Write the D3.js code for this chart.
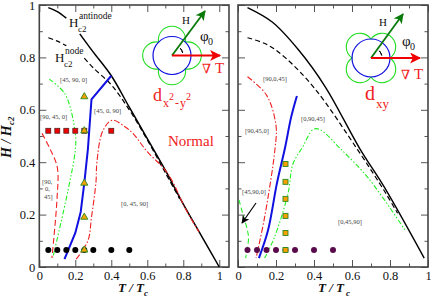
<!DOCTYPE html>
<html>
<head>
<meta charset="utf-8">
<script src="https://cdn.jsdelivr.net/npm/d3@7"></script>
<style>
  html, body { margin: 0; padding: 0; background: #fff; }
  svg { display: block; font-family: "Liberation Serif", serif; }
</style>
</head>
<body>
<svg id="chart" width="431" height="300"></svg>
<script>
// null splits a line where a label sits on top of it
const leftAntinode = [[.05,.99],[.1,.975],[.15,.95],null,[.225,.89],[.3,.82],[.4,.73],[.5,.61],[.6,.49],[.7,.37],[.8,.24],[.9,.12],[1,0]];
const leftNode = [[.05,.875],[.1,.862],[.15,.845],null,[.25,.797],[.3,.76],[.4,.695],[.5,.6],[.6,.485],[.7,.36],[.78,.26]];
const leftBlue = [[.14,.03],[.2,.13],[.23,.21],[.25,.32],[.27,.45],[.29,.64],[.4,.73]];
const leftRedRight = [[.205,.03],[.27,.1],[.29,.19],[.315,.325],[.32,.4],[.353,.52],[.405,.56],[.476,.535],[.52,.51],[.6,.44],[.7,.37],[.745,.32],[.81,.225],[.887,.134]];
const leftRedLeft = [[.015,.51],[.06,.45],[.1,.38],[.098,.256],[.07,.035]];
const leftGreen = [[.055,.717],[.143,.66],[.2,.51],[.2,.447],[.16,.294],[.075,.035]];

const rightAntinode = [[.05,.99],[.18,.935],[.317,.83],[.46,.687],[.64,.453],[.774,.3],[.98,.034]];
const rightNode = [[.05,.875],[.15,.85],[.247,.8],[.405,.68],[.63,.447],[.773,.287],[.84,.205]];
const rightBlue = [[.11,.034],[.158,.14],[.205,.32],[.247,.453],[.28,.573],[.31,.653]];
const rightRed = [[.05,.726],[.15,.656],[.2,.54],[.195,.453],[.14,.19],[.095,.034]];
const rightGreenBig = [[.14,.034],[.19,.11],[.263,.28],[.29,.395],[.34,.458],[.395,.525],[.43,.525],[.537,.453],[.685,.34],[.88,.14]];
const rightGreenSmall = [[.005,.256],[.026,.2],[.055,.115],[.04,.034]];

const leftCircleT = [.05,.1,.15,.2,.25,.3,.4,.5];
const leftSquareT = [.05,.1,.15,.2,.25,.4];
const leftTriangleH = [.065,.19,.32,.52,.65];
const rightCircleT = [.05,.1,.15,.2,.25,.3,.4,.5];
const rightSquareH = [.065,.13,.195,.26,.325,.393];
const circleH = .065, squareH = .52, markerT = .25;

const xTicks = [0,.2,.4,.6,.8,1];
const yTicks = [0,.2,.4,.6,.8,1];
const minorTicks = [.1,.3,.5,.7,.9];

const svg = d3.select('#chart');
const top_ = 5, bottom = 267;

const defs = svg.append('defs');
const arrowHead = (id, color, w, h) => {
  defs.append('marker').attr('id', id)
    .attr('viewBox', '0 0 10 10').attr('refX', 9).attr('refY', 5)
    .attr('markerUnits', 'userSpaceOnUse')
    .attr('markerWidth', w).attr('markerHeight', h)
    .attr('orient', 'auto')
    .append('path').attr('d', 'M0,0 L10,5 L0,10 L2.5,5 Z').attr('fill', color);
};
arrowHead('head-red', '#f00000', 14, 11);
arrowHead('head-green', '#0a7a0a', 11, 10);
arrowHead('head-black', '#000', 9, 8);

const makePanel = (left, right, xMax, showY) => {
  const x = d3.scaleLinear().domain([0, xMax]).range([left, right]);
  const y = d3.scaleLinear().domain([0, 1]).range([bottom, top_]);
  const g = svg.append('g');

  const style = a => {
    a.attr('font-family', null).attr('font-size', null);
    a.selectAll('.domain').remove();
    a.selectAll('line').attr('stroke', '#555').attr('stroke-width', 1);
    a.selectAll('text').attr('font-size', 12.5).attr('fill', '#111');
  };
  const fmt = d => String(d);

  const sides = [
    [d3.axisBottom(x), bottom, 'x', true],
    [d3.axisTop(x), top_, 'x', false],
    [d3.axisLeft(y), left, 'y', showY],
    [d3.axisRight(y), right, 'y', false]
  ];
  for (const [axis, pos, dir, labels] of sides) {
    const t = dir === 'x' ? `translate(0,${pos})` : `translate(${pos},0)`;
    const ticks = dir === 'x' ? xTicks : yTicks;
    g.append('g').attr('transform', t)
      .call(axis.tickValues(ticks).tickSizeInner(-7).tickSizeOuter(0).tickPadding(4)
        .tickFormat(labels ? fmt : ''))
      .call(style);
    g.append('g').attr('transform', t)
      .call(axis.tickValues(minorTicks).tickSizeInner(-3.5).tickFormat(''))
      .call(style);
  }
  g.append('rect')
    .attr('x', left).attr('y', top_)
    .attr('width', right - left).attr('height', bottom - top_)
    .attr('fill', 'none').attr('stroke', '#444').attr('stroke-width', 1.6);

  return { g, x, y };
};

const drawLine = (p, data, color, width, dash, curve) => {
  const line = d3.line()
    .defined(d => d !== null)
    .x(d => p.x(d[0])).y(d => p.y(d[1]))
    .curve(curve || d3.curveLinear);
  p.g.append('path')
    .attr('d', line(data))
    .attr('fill', 'none')
    .attr('stroke', color)
    .attr('stroke-width', width)
    .attr('stroke-dasharray', dash || null);
};

const txt = (str, px, py, size, color, opts = {}) => {
  const t = svg.append('text')
    .attr('x', px).attr('y', py)
    .attr('font-size', size)
    .attr('fill', color)
    .attr('text-anchor', opts.anchor || 'start')
    .text(str);
  if (opts.style) t.attr('font-style', opts.style);
  if (opts.weight) t.attr('font-weight', opts.weight);
  if (opts.family) t.attr('font-family', opts.family);
  if (opts.transform) t.attr('transform', opts.transform);
  return t;
};

// wave function picture, cx/cy given in panel pixels, rot = 0 for d(x2-y2), 45 for dxy
const inset = (cx, cy, rot, hx, hy, tx) => {
  const k = 13.4, r = 13.6;
  const petals = `M${k},${-k} A${r},${r} 0 1 0 ${-k},${-k} A${r},${r} 0 1 0 ${-k},${k} A${r},${r} 0 1 0 ${k},${k} A${r},${r} 0 1 0 ${k},${-k} Z`;
  svg.append('path').attr('d', petals)
    .attr('transform', `translate(${cx},${cy}) rotate(${rot})`)
    .attr('fill', 'none').attr('stroke', '#22dd22').attr('stroke-width', 1.1);
  svg.append('circle').attr('cx', cx).attr('cy', cy).attr('r', 19)
    .attr('fill', 'none').attr('stroke', '#1010e0').attr('stroke-width', 1.2);
  svg.append('line').attr('x1', cx).attr('y1', cy).attr('x2', hx).attr('y2', hy)
    .attr('stroke', '#0a7a0a').attr('stroke-width', 1.8)
    .attr('marker-end', 'url(#head-green)');
  svg.append('line').attr('x1', cx).attr('y1', cy).attr('x2', tx).attr('y2', cy)
    .attr('stroke', '#f00000').attr('stroke-width', 2.2)
    .attr('marker-end', 'url(#head-red)');
  const arc = d3.arc().innerRadius(11).outerRadius(11).startAngle(Math.PI * .5 * .55).endAngle(Math.PI * .5 * .85);
  svg.append('path').attr('d', arc()).attr('transform', `translate(${cx},${cy})`)
    .attr('fill', 'none').attr('stroke', '#000').attr('stroke-width', 1);
};

const leftP = makePanel(39.3, 229, 1.054, true);
const rightP = makePanel(238, 428, 1, false);

// left panel curves
drawLine(leftP, leftAntinode, '#000', 1.5, null, d3.curveCatmullRom);
drawLine(leftP, leftNode, '#000', 1.2, '5 3', d3.curveCatmullRom);
drawLine(leftP, leftGreen, '#22ee22', 1.1, '5 2 1.5 2 1.5 2', d3.curveCatmullRom);
drawLine(leftP, leftRedLeft, '#f02020', 1.1, '6 3', d3.curveCatmullRom);
drawLine(leftP, leftRedRight, '#f02020', 1.1, '6 2 1.5 2', d3.curveCatmullRom);
drawLine(leftP, leftBlue, '#1010e0', 2);

// right panel curves
drawLine(rightP, rightAntinode, '#000', 1.4, null, d3.curveCatmullRom);
drawLine(rightP, rightNode, '#000', 1.2, '5 3', d3.curveCatmullRom);
drawLine(rightP, rightRed, '#f02020', 1.1, '6 2 1.5 2', d3.curveCatmullRom);
drawLine(rightP, rightGreenBig, '#22ee22', 1.1, '5 2 1.5 2 1.5 2', d3.curveCatmullRom);
drawLine(rightP, rightGreenSmall, '#22ee22', 1.1, '5 3', d3.curveCatmullRom);
drawLine(rightP, rightBlue, '#1010e0', 2, null, d3.curveCatmullRom);

// markers
leftP.g.selectAll('.dot').data(leftCircleT).enter().append('circle')
  .attr('cx', d => leftP.x(d)).attr('cy', leftP.y(circleH)).attr('r', 3)
  .attr('fill', '#000');
leftP.g.selectAll('.sq').data(leftSquareT).enter().append('rect')
  .attr('x', d => leftP.x(d) - 2.5).attr('y', leftP.y(squareH) - 2.5)
  .attr('width', 5).attr('height', 5)
  .attr('fill', '#ee0000').attr('stroke', '#4a2020').attr('stroke-width', .7);
const tri = d3.symbol().type(d3.symbolTriangle).size(22);
leftP.g.selectAll('.tri').data(leftTriangleH).enter().append('path')
  .attr('d', tri())
  .attr('transform', d => `translate(${leftP.x(markerT)},${leftP.y(d)})`)
  .attr('fill', '#f5a000').attr('stroke', '#2a8a20').attr('stroke-width', .9);

rightP.g.selectAll('.dot').data(rightCircleT).enter().append('circle')
  .attr('cx', d => rightP.x(d)).attr('cy', rightP.y(circleH)).attr('r', 3)
  .attr('fill', '#5a0a4a');
rightP.g.selectAll('.sq').data(rightSquareH).enter().append('rect')
  .attr('x', rightP.x(markerT) - 2.5).attr('y', d => rightP.y(d) - 2.5)
  .attr('width', 5).attr('height', 5)
  .attr('fill', '#f5a000').attr('stroke', '#2a8a20').attr('stroke-width', .9);

svg.append('line').attr('x1', 256).attr('y1', 203).attr('x2', 242).attr('y2', 223)
  .attr('stroke', '#000').attr('stroke-width', 1.2)
  .attr('marker-end', 'url(#head-black)');

inset(172, 55.5, 0, 205, 11, 220);
inset(371, 58, 45, 403, 14, 420);

// titles
txt('H', 69, 27, 13, '#111');
txt('antinode', 79, 19, 9.5, '#111');
txt('c2', 78, 32, 9, '#111');
txt('H', 55, 62, 13, '#111');
txt('node', 65, 54, 9.5, '#111');
txt('c2', 64, 67, 9, '#111');

// parameter labels
const small = '#444';
txt('[45, 90, 0]', 60, 82, 6.5, small);
txt('[45, 0, 90]', 94, 113, 6.5, small);
txt('[90, 45, 0]', 40, 119, 6.5, small);
txt('[90,', 42, 184, 6.5, small);
txt('0,', 45, 191, 6.5, small);
txt('45]', 44, 199, 6.5, small);
txt('[0, 45, 90]', 121, 206, 6.5, small);
txt('[90,0,45]', 263, 81, 6.5, small);
txt('[90,45,0]', 245, 133, 6.5, small);
txt('[0,90,45]', 301, 121, 6.5, small);
txt('[45,90,0]', 242, 194, 6.5, small);
txt('[0,45,90]', 338, 224, 6.5, small);

txt('Normal', 168, 146, 15, '#f02020');

// inset texts
txt('H', 182, 24, 11, '#111');
txt('\u03c6', 200, 41, 15, '#111');
txt('0', 208, 45, 10, '#111');
txt('\u2207', 202, 73, 13, '#f02020', { family: 'DejaVu Serif' });
txt('T', 215, 73, 15, '#f02020');
txt('d', 153, 101, 18, '#f02020');
txt('x', 163, 107, 12, '#f02020');
txt('2', 169, 100, 10, '#f02020');
txt('-', 175, 107, 12, '#f02020');
txt('y', 180, 107, 12, '#f02020');
txt('2', 186, 100, 10, '#f02020');

txt('H', 379, 26, 11, '#111');
txt('\u03c6', 402, 46, 15, '#111');
txt('0', 410, 50, 10, '#111');
txt('\u2207', 401, 79, 13, '#f02020', { family: 'DejaVu Serif' });
txt('T', 414, 79, 15, '#f02020');
txt('d', 365, 100, 20, '#f02020');
txt('xy', 376, 108, 13, '#f02020');

// axis titles
txt('T / T', 118, 292, 13, '#111', { style: 'italic', weight: 'bold' });
txt('c', 144, 296, 9, '#111', { style: 'italic', weight: 'bold' });
txt('T / T', 318, 292, 13, '#111', { style: 'italic', weight: 'bold' });
txt('c', 346, 296, 9, '#111', { style: 'italic', weight: 'bold' });
txt('H / H', 0, 0, 14, '#111', { style: 'italic', weight: 'bold', transform: 'translate(10.5,158) rotate(-90)' });
txt('c2', 0, 0, 9, '#111', { style: 'italic', weight: 'bold', transform: 'translate(14,125) rotate(-90)' });
</script>
</body>
</html>
